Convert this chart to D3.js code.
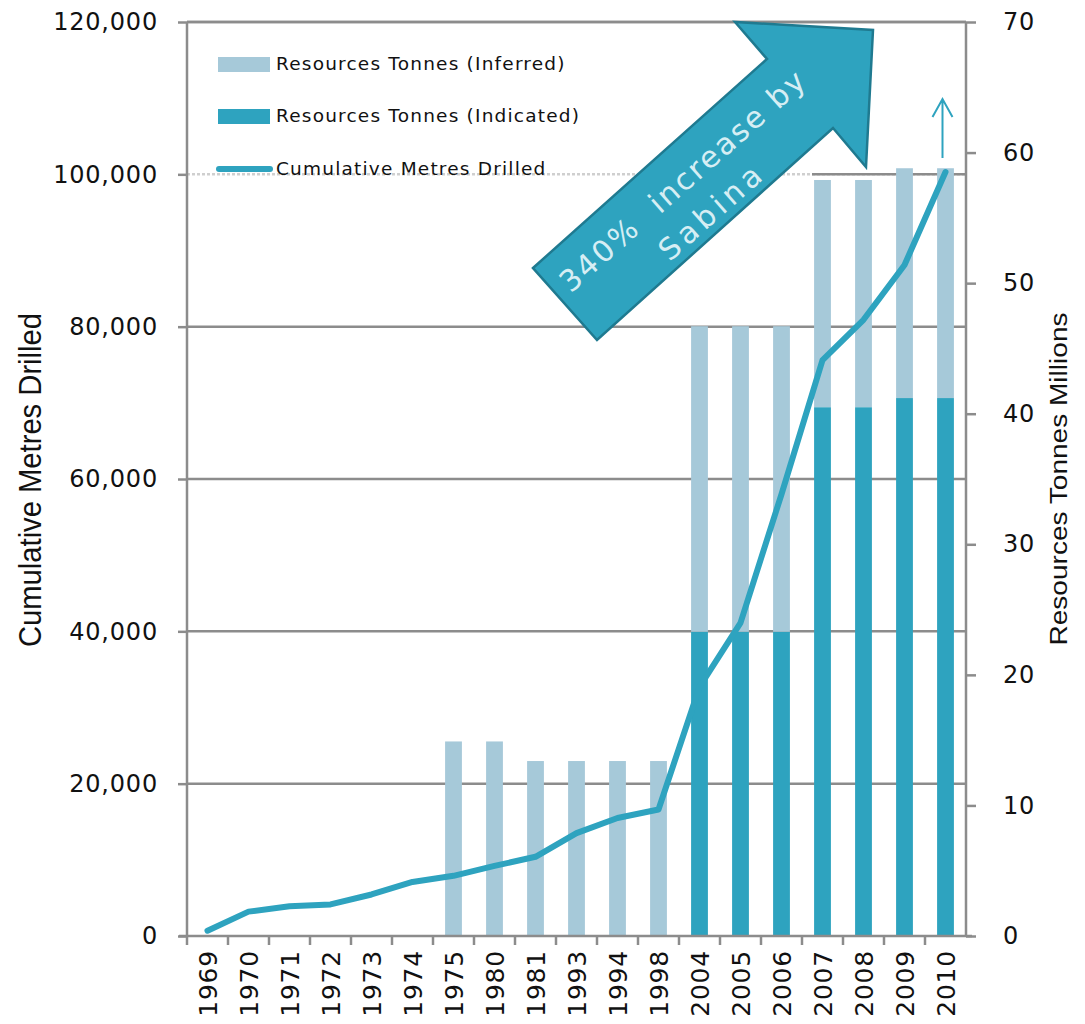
<!DOCTYPE html>
<html>
<head>
<meta charset="utf-8">
<script src="https://cdn.jsdelivr.net/npm/d3@7"></script>
<style>
  body { margin: 0; background: #fff; }
  svg { display: block; }
</style>
</head>
<body>
<svg id="chart" width="1085" height="1024"></svg>
<script>
// chart data
let years = ['1969', '1970', '1971', '1972', '1973', '1974', '1975', '1980', '1981', '1993', '1994', '1998', '2004', '2005', '2006', '2007', '2008', '2009', '2010']
let indicated = [0, 0, 0, 0, 0, 0, 0, 0, 0, 0, 0, 0, 23.3, 23.3, 23.3, 40.5, 40.5, 41.2, 41.2]
let inferred = [0, 0, 0, 0, 0, 0, 14.9, 14.9, 13.4, 13.4, 13.4, 13.4, 23.4, 23.4, 23.4, 17.4, 17.4, 17.6, 17.6]
let metres = [700, 3200, 3900, 4150, 5450, 7100, 7900, 9200, 10400, 13500, 15500, 16600, 32700, 41100, 58000, 75600, 80900, 88100, 100300]
let leftTicks = [0, 20000, 40000, 60000, 80000, 100000, 120000]
let rightTicks = [0, 10, 20, 30, 40, 50, 60, 70]
let legendItems = ['Resources Tonnes (Inferred)', 'Resources Tonnes (Indicated)', 'Cumulative Metres Drilled']
let arrowLines = ['340%  increase by', 'Sabina']

let svg = d3.select('#chart')
let plotLeft = 187, plotRight = 966, plotTop = 22, plotBottom = 936
let grey = '#8c8c8c', lightBlue = '#a6c9d9', blue = '#2ea3bf'

let x = d3.scaleBand().domain(years).range([plotLeft, plotRight]).paddingInner(0.59).paddingOuter(0.295)
let band = d3.scaleBand().domain(years).range([plotLeft, plotRight])
let yLeft = d3.scaleLinear().domain([0, 120000]).range([plotBottom, plotTop])
let yRight = d3.scaleLinear().domain([0, 70]).range([plotBottom, plotTop])

//gridlines
svg.append('g')
   .selectAll('line')
   .data(leftTicks.filter(d => d > 0))
   .enter()
   .append('line')
   .attr('x1', plotLeft)
   .attr('x2', plotRight)
   .attr('y1', d => yLeft(d))
   .attr('y2', d => yLeft(d))
   .attr('stroke', d => d === 100000 ? '#cfcfcf' : grey)
   .attr('stroke-dasharray', d => d === 100000 ? '3,2' : null)
   .attr('stroke-width', 2.5)
// right part of the 100,000 line is solid again
svg.append('line')
   .attr('x1', 812).attr('x2', plotRight)
   .attr('y1', yLeft(100000)).attr('y2', yLeft(100000))
   .attr('stroke', grey).attr('stroke-width', 2.5)

//bars
let bars = svg.append('g')
bars.selectAll('.indicated')
    .data(years)
    .enter()
    .append('rect')
    .attr('class', 'indicated')
    .attr('x', d => x(d))
    .attr('width', x.bandwidth())
    .attr('y', (d, i) => yRight(indicated[i]))
    .attr('height', (d, i) => yRight(0) - yRight(indicated[i]))
    .attr('fill', blue)
bars.selectAll('.inferred')
    .data(years)
    .enter()
    .append('rect')
    .attr('class', 'inferred')
    .attr('x', d => x(d))
    .attr('width', x.bandwidth())
    .attr('y', (d, i) => yRight(indicated[i] + inferred[i]))
    .attr('height', (d, i) => yRight(indicated[i]) - yRight(indicated[i] + inferred[i]))
    .attr('fill', lightBlue)

//line
let line = d3.line()
             .x((d, i) => band(years[i]) + band.bandwidth() / 2)
             .y(d => yLeft(d))
svg.append('path')
   .datum(metres)
   .attr('d', line)
   .attr('fill', 'none')
   .attr('stroke', blue)
   .attr('stroke-width', 6)
   .attr('stroke-linejoin', 'round')
   .attr('stroke-linecap', 'round')

//axes
let leftAxis = d3.axisLeft(yLeft).tickValues(leftTicks).tickSize(9).tickPadding(20).tickFormat(d3.format(','))
let rightAxis = d3.axisRight(yRight).tickValues(rightTicks).tickSize(10).tickPadding(27)
let bottomAxis = d3.axisBottom(band).tickSize(9).tickPadding(14)

let styleAxis = (g) => {
    g.selectAll('path, line').attr('stroke', grey).attr('stroke-width', 2.5)
    g.selectAll('text')
     .attr('fill', '#111')
     .style('font-family', '"DejaVu Sans", Verdana, sans-serif')
     .style('font-size', '24px')
     .style('letter-spacing', '0.8px')
}

svg.append('g')
   .attr('transform', `translate(${plotLeft}, 0)`)
   .call(leftAxis)
   .call(styleAxis)
   .call(g => g.select('.domain').attr('d', `M0,${plotTop}V${plotBottom}`))
svg.append('g')
   .attr('transform', `translate(${plotRight}, 0)`)
   .call(rightAxis)
   .call(styleAxis)
   .call(g => g.select('.domain').attr('d', `M0,${plotTop}V${plotBottom}`))
let xg = svg.append('g')
   .attr('transform', `translate(0, ${plotBottom})`)
   .call(bottomAxis)
   .call(styleAxis)
   .call(g => g.select('.domain').attr('d', `M${plotLeft - 8},0H${plotRight + 6}`))
// ticks sit on the band edges
xg.selectAll('.tick line').attr('x1', -band.bandwidth() / 2).attr('x2', -band.bandwidth() / 2)
xg.selectAll('.tick text')
  .attr('transform', 'rotate(-90)')
  .attr('text-anchor', 'end')
  .attr('x', -14)
  .attr('y', 0)
  .attr('dy', '0.36em')
  .style('font-size', '25px')
// top border
svg.append('line')
   .attr('x1', plotLeft).attr('x2', plotRight)
   .attr('y1', plotTop).attr('y2', plotTop)
   .attr('stroke', grey).attr('stroke-width', 2.5)

//axis titles
svg.append('text')
   .text('Cumulative Metres Drilled')
   .attr('transform', `translate(41, ${(plotTop + plotBottom) / 2 + 1}) rotate(-90)`)
   .attr('text-anchor', 'middle')
   .attr('textLength', 334)
   .attr('lengthAdjust', 'spacingAndGlyphs')
   .style('font-family', '"Liberation Sans Narrow", "Liberation Sans", Arial, sans-serif')
   .style('font-size', '31px')
   .attr('fill', '#111')
svg.append('text')
   .text('Resources Tonnes Millions')
   .attr('transform', `translate(1067, ${(plotTop + plotBottom) / 2}) rotate(-90)`)
   .attr('text-anchor', 'middle')
   .attr('textLength', 333)
   .attr('lengthAdjust', 'spacingAndGlyphs')
   .style('font-family', '"Liberation Sans", Arial, sans-serif')
   .style('font-size', '23px')
   .attr('fill', '#111')

//legend
let legend = svg.append('g')
let legendY = [64, 116, 169]
legend.selectAll('rect')
      .data(legendItems.slice(0, 2))
      .enter()
      .append('rect')
      .attr('x', 218)
      .attr('y', (d, i) => legendY[i] - 7)
      .attr('width', 52)
      .attr('height', 15)
      .attr('fill', (d, i) => i === 0 ? lightBlue : blue)
legend.append('line')
      .attr('x1', 219).attr('x2', 270)
      .attr('y1', legendY[2]).attr('y2', legendY[2])
      .attr('stroke', blue).attr('stroke-width', 6).attr('stroke-linecap', 'round')
legend.selectAll('text')
      .data(legendItems)
      .enter()
      .append('text')
      .text(d => d)
      .attr('x', 276)
      .attr('y', (d, i) => legendY[i] + 6)
      .style('font-family', '"DejaVu Sans", Verdana, sans-serif')
      .style('font-size', '18.5px')
      .style('letter-spacing', '1.2px')
      .attr('fill', '#111')

//big arrow
let arrowPts = [[533, 268], [767, 59], [735, 22], [873, 30], [866, 167], [833, 128], [597, 340]]
svg.append('polygon')
   .attr('points', arrowPts.map(p => p.join(',')).join(' '))
   .attr('fill', '#2ea3bf')
   .attr('stroke', '#1f7a90')
   .attr('stroke-width', 2.5)
   .attr('stroke-linejoin', 'miter')
let arrowText = svg.append('g')
                   .attr('transform', 'translate(697, 198) rotate(-41.5)')
arrowText.selectAll('text')
         .data(arrowLines)
         .enter()
         .append('text')
         .text(d => d)
         .attr('x', 0)
         .attr('y', (d, i) => i * 42 - 12)
         .attr('text-anchor', 'middle')
         .attr('textLength', (d, i) => i === 0 ? 316 : 126)
         .attr('lengthAdjust', 'spacing')
         .style('white-space', 'pre')
         .style('font-family', '"DejaVu Sans", Verdana, sans-serif')
         .style('font-size', '30px')
         .attr('fill', '#d6eef4')

//small arrow over 2010
let sx = band('2010') + band.bandwidth() / 2 - 3
svg.append('path')
   .attr('d', `M${sx},${yLeft(100300) - 14}V${yLeft(100300) - 72}M${sx - 10},${yLeft(100300) - 55}L${sx},${yLeft(100300) - 73}L${sx + 10},${yLeft(100300) - 55}`)
   .attr('fill', 'none')
   .attr('stroke', blue)
   .attr('stroke-width', 2)
</script>
</body>
</html>
